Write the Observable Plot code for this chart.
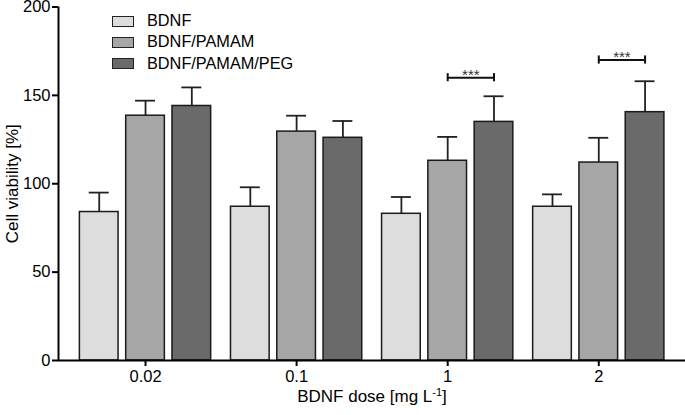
<!DOCTYPE html>
<html>
<head>
<meta charset="utf-8">
<script src="https://cdn.jsdelivr.net/npm/d3@7"></script>
<script src="https://cdn.jsdelivr.net/npm/@observablehq/plot@0.6"></script>
<style>
  html, body { margin: 0; padding: 0; background: #fff; }
  #wrap { position: relative; width: 685px; height: 415px; font-family: "Liberation Sans", Arial, sans-serif; }
  #legend { position: absolute; left: 112px; top: 10px; font-size: 16.3px; color: #000; }
  .row { position: relative; height: 21.3px; }
  .sw { position: absolute; left: 0; top: 5.5px; width: 22px; height: 11px; box-sizing: border-box; border: 1.5px solid #222; }
  .lab { position: absolute; left: 35px; top: 1px; white-space: nowrap; line-height: 18px; }
</style>
</head>
<body>
<div id="wrap"><div id="chart"></div><div id="legend"></div></div>
<script>
// ---- data ----
const doses = ["0.02", "0.1", "1", "2"];
const seriesNames = ["BDNF", "BDNF/PAMAM", "BDNF/PAMAM/PEG"];
const seriesColors = ["#dddddd", "#a6a6a6", "#6a6a6a"];
const bdnfMean  = [84, 87, 83, 87];
const bdnfErr   = [11, 11, 9.5, 7];
const pamamMean = [138.5, 129.5, 113, 112];
const pamamErr  = [8.5, 9, 13.5, 14];
const pegMean   = [144, 126, 135, 140.5];
const pegErr    = [10.5, 9.5, 14.5, 17.5];
const sigDoses  = ["1", "2"];
const sigLevels = [160, 170];
const sigLabels = ["***", "***"];
const yTicks = [0, 50, 100, 150, 200];
const xLabel = "BDNF dose [mg L-1]";
const yLabel = "Cell viability [%]";

// ---- layout (in group units) ----
const barStep = 0.3064, barHalf = 0.128, capHalf = 0.066, xDomain = [-0.576, 3.574];

const means = [bdnfMean, pamamMean, pegMean];
const errs = [bdnfErr, pamamErr, pegErr];
const rows = [];
doses.forEach((d, gi) => seriesNames.forEach((s, si) => {
  rows.push({dose: d, series: s, value: means[si][gi], err: errs[si][gi], cx: gi + (si - 1) * barStep});
}));
const sig = sigDoses.map((d, i) => {
  const gi = doses.indexOf(d);
  return {from: gi, to: gi + barStep, y: sigLevels[i], label: sigLabels[i]};
});

const chart = Plot.plot({
  width: 685, height: 415,
  marginLeft: 58, marginRight: 0, marginTop: 6.5, marginBottom: 55,
  style: {fontFamily: "'Liberation Sans', Arial, sans-serif", fontSize: "16px", color: "#000", background: "#fff"},
  x: {domain: xDomain, axis: null},
  y: {domain: [0, 200], axis: null},
  color: {domain: seriesNames, range: seriesColors},
  marks: [
    Plot.ruleX(rows, {x: "cx", y1: "value", y2: d => d.value + d.err, stroke: "#222", strokeWidth: 1.8}),
    Plot.ruleY(rows, {y: d => d.value + d.err, x1: d => d.cx - capHalf, x2: d => d.cx + capHalf, stroke: "#222", strokeWidth: 1.8}),
    Plot.rect(rows, {x1: d => d.cx - barHalf, x2: d => d.cx + barHalf, y1: 0, y2: "value", fill: "series", stroke: "#1a1a1a", strokeWidth: 1.5}),
    Plot.ruleY(sig, {y: "y", x1: "from", x2: "to", stroke: "#111", strokeWidth: 2}),
    Plot.ruleX(sig, {x: "from", y1: d => d.y - 2.3, y2: d => d.y + 2.3, stroke: "#111", strokeWidth: 2}),
    Plot.ruleX(sig, {x: "to", y1: d => d.y - 2.3, y2: d => d.y + 2.3, stroke: "#111", strokeWidth: 2}),
    Plot.text(sig, {x: d => (d.from + d.to) / 2, y: "y", text: "label", lineAnchor: "bottom", dy: 2, fontSize: 15, fill: "#333"}),
    Plot.ruleY([0], {stroke: "#000", strokeWidth: 2}),
    Plot.ruleX([xDomain[0]], {y1: 0, y2: 200, stroke: "#000", strokeWidth: 2}),
    Plot.axisY({ticks: yTicks, tickSize: 6, tickPadding: 2, strokeWidth: 2, fontSize: 16.5, label: null}),
    Plot.axisX({ticks: [0, 1, 2, 3], tickFormat: i => doses[i], tickSize: 6, tickPadding: 4, strokeWidth: 2, fontSize: 16.5, label: null}),
    Plot.text([yLabel], {x: xDomain[0], y: 100, dx: -46, rotate: -90, fontSize: 17, fill: "#000"}),
    Plot.text([xLabel], {x: (xDomain[0] + xDomain[1]) / 2, y: 0, dy: 36, fontSize: 17, fill: "#000"})
  ]
});
document.getElementById("chart").appendChild(chart);

// superscript for the x label
d3.select(chart).selectAll("text").filter(function() { return this.textContent === xLabel; })
  .each(function() {
    const t = d3.select(this);
    t.text(null);
    t.append("tspan").text("BDNF dose [mg L");
    t.append("tspan").attr("baseline-shift", "super").attr("font-size", "11px").text("-1");
    t.append("tspan").text("]");
  });

// legend
const lg = document.getElementById("legend");
seriesNames.forEach((s, i) => {
  const r = document.createElement("div"); r.className = "row";
  const sw = document.createElement("div"); sw.className = "sw"; sw.style.background = seriesColors[i];
  const lb = document.createElement("div"); lb.className = "lab"; lb.textContent = s;
  r.appendChild(sw); r.appendChild(lb); lg.appendChild(r);
});
</script>
</body>
</html>
